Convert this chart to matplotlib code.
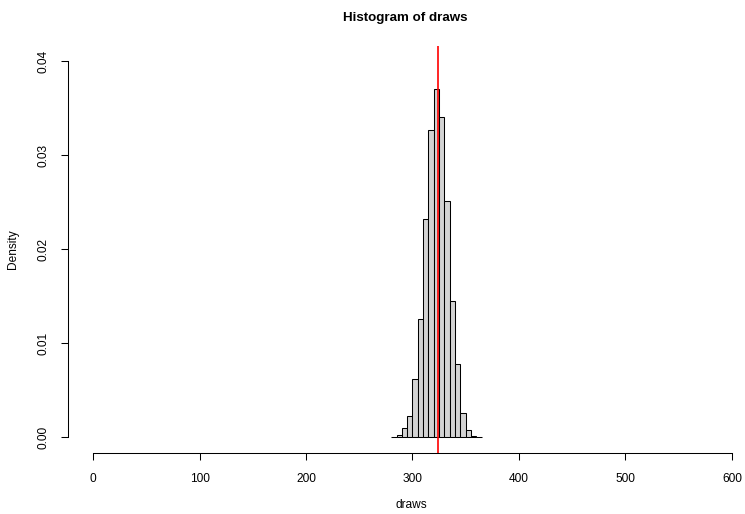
import numpy as np
import matplotlib
matplotlib.use("Agg")
import matplotlib.pyplot as plt

plt.rcParams['font.family'] = ['Liberation Sans', 'DejaVu Sans']

# histogram of draws (density, bin width 5)
bin_edges = [280, 285, 290, 295, 300, 305, 310, 315, 320, 325, 330, 335,
             340, 345, 350, 355, 360, 365]
densities = [0.00002, 0.00025, 0.00096, 0.0023, 0.0062, 0.01255, 0.0232,
             0.0327, 0.0370, 0.0341, 0.0251, 0.01454, 0.0078, 0.00255,
             0.00078, 0.0002, 0.00003]
mean_line = 324
x_ticks = [0, 100, 200, 300, 400, 500, 600]
y_ticks = [0.00, 0.01, 0.02, 0.03, 0.04]

W, H = 745, 514
fig = plt.figure(figsize=(W / 100, H / 100), dpi=100)
# plot region in pixels (R style, extends past right edge)
left, right, top, bottom = 67.5, 757.5, 46, 452.5
ax = fig.add_axes([left / W, 1 - bottom / H, (right - left) / W, (bottom - top) / H])

widths = np.diff(bin_edges)
ax.bar(bin_edges[:-1], densities, width=widths, align='edge',
       color='#D3D3D3', edgecolor='black', linewidth=0.75)
ax.axvline(mean_line, color='red', linewidth=1.2)

ax.set_xlim(-24, 624)
ax.set_ylim(-0.0016, 0.0416)

for s in ['top', 'right']:
    ax.spines[s].set_visible(False)
ax.spines['bottom'].set_bounds(0, 600)
ax.spines['left'].set_bounds(0, 0.04)
for s in ['bottom', 'left']:
    ax.spines[s].set_linewidth(0.75)

ax.set_xticks(x_ticks)
ax.set_xticklabels([str(v) for v in x_ticks])
ax.set_yticks(y_ticks)
ax.set_yticklabels(['%.2f' % v for v in y_ticks], rotation=90, va='center')
ax.tick_params(axis='both', length=5, width=0.75, labelsize=8.6, direction='out')
ax.tick_params(axis='x', pad=10)
ax.tick_params(axis='y', pad=8)

fig.text(405 / W, 1 - 18 / H, 'Histogram of draws', ha='center', va='center',
         fontsize=9.6, fontweight='bold')
fig.text(411 / W, 1 - 505 / H, 'draws', ha='center', va='center', fontsize=8.6)
fig.text(13 / W, 1 - 249 / H, 'Density', ha='center', va='center',
         fontsize=8.6, rotation=90)

fig.savefig('out.png', dpi=100)
